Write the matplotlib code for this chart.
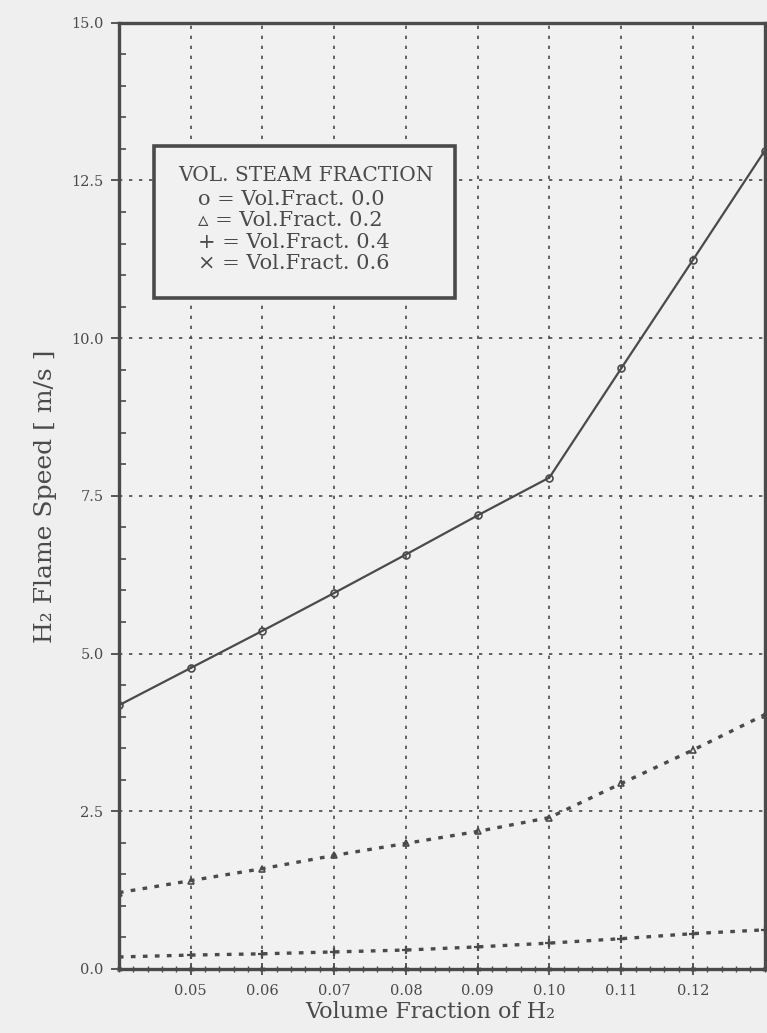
import numpy as np
import matplotlib
matplotlib.use('Agg')
import matplotlib.pyplot as plt
from matplotlib.ticker import MultipleLocator

# volume fraction of H2
h2_frac = [0.04, 0.05, 0.06, 0.07, 0.08, 0.09, 0.10, 0.11, 0.12, 0.13]

# flame speed (m/s) per steam fraction
speed_00 = [4.18, 4.77, 5.36, 5.96, 6.57, 7.19, 7.79, 9.52, 11.24, 12.97]
speed_02 = [1.21, 1.40, 1.59, 1.80, 1.99, 2.18, 2.40, 2.94, 3.47, 4.03]
speed_04 = [0.19, 0.22, 0.24, 0.27, 0.30, 0.35, 0.41, 0.48, 0.56, 0.62]
speed_06 = [0.0, 0.0, 0.0, 0.0, 0.0, 0.0, 0.0, 0.0, 0.0, 0.0]

x_ticks = [0.05, 0.06, 0.07, 0.08, 0.09, 0.10, 0.11, 0.12]
x_ticklabels = ['0.05', '0.06', '0.07', '0.08', '0.09', '0.10', '0.11', '0.12']
y_ticks = [0.0, 2.5, 5.0, 7.5, 10.0, 12.5, 15.0]

legend_title = 'VOL. STEAM FRACTION'
legend_rows = ['o = Vol.Fract. 0.0', '\u25b5 = Vol.Fract. 0.2',
               '+ = Vol.Fract. 0.4', '\u00d7 = Vol.Fract. 0.6']

ink = '#4a4a4a'
plt.rcParams['font.family'] = ['DejaVu Serif']

fig = plt.figure(figsize=(7.67, 10.33), dpi=100, facecolor='#efefef')
ax = fig.add_axes([0.155, 0.062, 0.842, 0.916])
ax.set_facecolor('#f1f1f1')

dots = (0, (1.4, 2.2))
ax.plot(h2_frac, speed_00, color=ink, lw=1.6, marker='o', ms=5,
        mfc='none', mec=ink, mew=1.2, zorder=4)
ax.plot(h2_frac, speed_02, color=ink, lw=2.4, ls=dots, marker='^', ms=5,
        mfc='none', mec=ink, mew=1.2, zorder=4)
ax.plot(h2_frac, speed_04, color=ink, lw=2.4, ls=dots, marker='+', ms=6,
        mec=ink, mew=1.6, zorder=4)
ax.plot(h2_frac, speed_06, color=ink, lw=1.2, ls=(0, (2, 2)), marker='x', ms=3,
        mec=ink, mew=0.8, zorder=4, clip_on=False)

ax.set_xlim(0.04, 0.13)
ax.set_ylim(0.0, 15.0)
ax.set_xticks(x_ticks)
ax.set_xticklabels(x_ticklabels)
ax.set_yticks(y_ticks)
ax.set_yticklabels(['%.1f' % v for v in y_ticks])
ax.yaxis.set_minor_locator(MultipleLocator(0.5))
ax.xaxis.set_minor_locator(MultipleLocator(0.002))

ax.grid(True, which='major', color=ink, lw=1.2, ls=(0, (2, 4)))
ax.tick_params(axis='both', which='major', colors=ink, labelsize=10.5,
               width=1.3, length=6)
ax.tick_params(axis='x', which='major', direction='inout', length=8, pad=7)
ax.tick_params(axis='y', which='major', direction='out', pad=5)
ax.tick_params(axis='y', which='minor', direction='in', length=5, width=1.2, colors=ink)
ax.tick_params(axis='x', which='minor', direction='inout', length=4, width=1.0, colors=ink)
for side in ['left', 'right', 'top', 'bottom']:
    ax.spines[side].set_color(ink)
    ax.spines[side].set_linewidth(2.4)

ax.set_xlabel('Volume Fraction of H\u2082', fontsize=16, color=ink)
ax.xaxis.set_label_coords(0.482, -0.034)
ax.set_ylabel('H\u2082 Flame Speed [ m/s ]', fontsize=18, color=ink, labelpad=10)

# legend box drawn by hand like the scanned original
box = plt.Rectangle((0.054, 0.709), 0.466, 0.161, transform=ax.transAxes,
                    facecolor='#f1f1f1', edgecolor=ink, lw=2.6, zorder=6)
ax.add_patch(box)
ax.text(0.29, 0.839, legend_title, transform=ax.transAxes, ha='center',
        va='center', fontsize=14.5, color=ink, zorder=7)
for i, row in enumerate(legend_rows):
    ax.text(0.122, 0.813 - i * 0.0225, row, transform=ax.transAxes,
            ha='left', va='center', fontsize=15, color=ink, zorder=7)

fig.savefig('out.png', dpi=100, facecolor=fig.get_facecolor())
